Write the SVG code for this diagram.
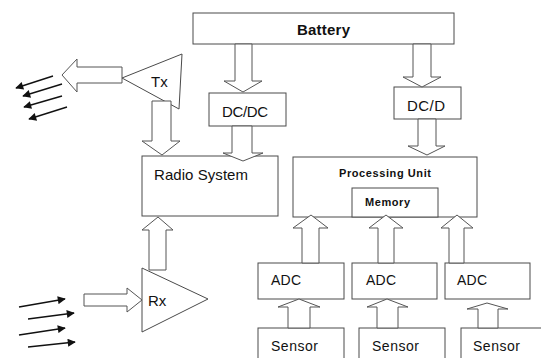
<svg xmlns="http://www.w3.org/2000/svg" width="541" height="358" viewBox="0 0 541 358">
<style>
.box{fill:#fff;stroke:#4a4a4a;stroke-width:1}
.blk{fill:#fff;stroke:#555;stroke-width:1;stroke-linejoin:miter}
.t{font-family:"Liberation Sans",Arial,sans-serif;font-size:14px;fill:#111}
.b{font-weight:bold}
.ln{stroke:#111;stroke-width:1.4;fill:none}
</style>
<defs>
<marker id="ah" viewBox="0 0 10 10" refX="9" refY="5" markerWidth="9" markerHeight="8" markerUnits="userSpaceOnUse" orient="auto">
<path d="M0,0 L10,5 L0,10 z" fill="#111"/>
</marker>
</defs>
<rect width="541" height="358" fill="#fff"/>

<g id="battery"><rect class="box" x="193" y="13" width="261" height="31"/><text class="t b" x="297" y="35" style="font-size:15px" textLength="53">Battery</text></g>
<g id="dcdc1"><rect class="box" x="209" y="93" width="77" height="33"/><text class="t" x="222" y="117" style="font-size:15px" textLength="46">DC/DC</text></g>
<g id="dcdc2"><rect class="box" x="394" y="87" width="67" height="32"/><text class="t" x="407" y="111" style="font-size:15px" textLength="38">DC/D</text></g>
<g id="radio"><rect class="box" x="142" y="156" width="136" height="60"/><text class="t" x="154" y="180" style="font-size:15px" textLength="94">Radio System</text></g>
<g id="processing"><rect class="box" x="293" y="157" width="184" height="60"/><text class="t b" x="339" y="177" style="font-size:11px" textLength="92">Processing Unit</text></g>
<g id="memory"><rect class="box" x="352" y="188" width="86" height="29"/><text class="t b" x="365" y="206" style="font-size:11px" textLength="45">Memory</text></g>
<g id="tx"><polygon class="box" points="122,78 182,54 179,109"/><text class="t" x="151" y="87" style="font-size:15px">Tx</text></g>
<g id="rx"><polygon class="box" points="142,268 208,299 142,332"/><text class="t" x="148" y="306" style="font-size:15px">Rx</text></g>
<g id="adc1"><rect class="box" x="258" y="263" width="86" height="36"/><text class="t" x="271" y="285" textLength="30">ADC</text></g>
<g id="adc2"><rect class="box" x="352" y="263" width="85" height="36"/><text class="t" x="366" y="285" textLength="30">ADC</text></g>
<g id="adc3"><rect class="box" x="445" y="263" width="85" height="36"/><text class="t" x="457" y="285" textLength="30">ADC</text></g>
<g id="sensor1"><rect class="box" x="258" y="328" width="86" height="40"/><text class="t" x="271" y="351" textLength="47">Sensor</text></g>
<g id="sensor2"><rect class="box" x="359" y="328" width="86" height="40"/><text class="t" x="372" y="351" textLength="47">Sensor</text></g>
<g id="sensor3"><rect class="box" x="461" y="328" width="90" height="40"/><text class="t" x="473" y="351" textLength="47">Sensor</text></g>

<g id="connectors">
<polygon class="blk" points="235,44 252,44 252,81 262,81 243,92 224,81 235,81"/>
<polygon class="blk" points="232,126 252,126 252,153 263,153 243,161 223,153 232,153"/>
<polygon class="blk" points="152,101 171,101 171,141 180,141 162,155 142,141 152,141"/>
<polygon class="blk" points="413,44 431,44 431,77 441,77 422,87 403,77 413,77"/>
<polygon class="blk" points="418,119 436,119 436,146 445,146 427,155 408,146 418,146"/>
<polygon class="blk" points="122,67 77,67 77,59 62,75 77,92 77,83 122,83"/>
<polygon class="blk" points="84,294 127,294 127,288 142,300 127,312 127,306 84,306"/>
<polygon class="blk" points="149,270 166,270 166,230 173,230 158,217 142,230 149,230"/>
<polygon class="blk" points="302,263 319,263 319,228 328,228 311,215 293,228 302,228"/>
<polygon class="blk" points="378,263 394,263 394,228 403,228 386,215 369,228 378,228"/>
<polygon class="blk" points="449,263 464,263 464,228 473,228 457,215 441,228 449,228"/>
<polygon class="blk" points="288,328 310,328 310,307 320,307 299,299 278,307 288,307"/>
<polygon class="blk" points="377,328 398,328 398,307 408,307 387,299 367,307 377,307"/>
<polygon class="blk" points="478,328 498,328 498,309 508,309 487,303 467,309 478,309"/>
<line class="ln" x1="53" y1="76" x2="16" y2="88" marker-end="url(#ah)"/>
<line class="ln" x1="62" y1="84" x2="23" y2="96" marker-end="url(#ah)"/>
<line class="ln" x1="62" y1="96" x2="24" y2="107" marker-end="url(#ah)"/>
<line class="ln" x1="67" y1="107" x2="29" y2="119" marker-end="url(#ah)"/>
<line class="ln" x1="19" y1="307" x2="65" y2="299" marker-end="url(#ah)"/>
<line class="ln" x1="28" y1="319" x2="74" y2="313" marker-end="url(#ah)"/>
<line class="ln" x1="19" y1="335" x2="65" y2="328" marker-end="url(#ah)"/>
<line class="ln" x1="28" y1="347" x2="75" y2="342" marker-end="url(#ah)"/>
</g>
</svg>
